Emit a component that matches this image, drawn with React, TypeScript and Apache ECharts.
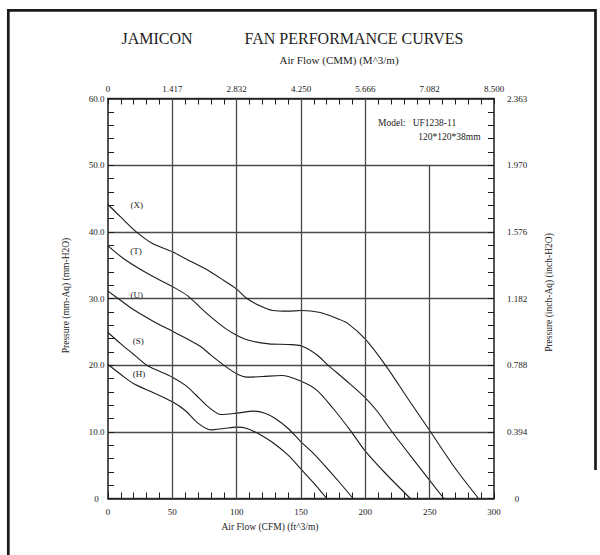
import React, { useEffect, useRef } from 'react';
import * as echarts from 'echarts';

// Axis tick labels
const cfmLabels = ['0', '50', '100', '150', '200', '250', '300'];
const cmmLabels = ['0', '1.417', '2.832', '4.250', '5.666', '7.082', '8.500'];
const mmLabels = ['0', '10.0', '20.0', '30.0', '40.0', '50.0', '60.0'];
const inchLabels = ['0', '0.394', '0.788', '1.182', '1.576', '1.970', '2.363'];

// Curves: [CFM, mm-H2O]
const curveX = [[0, 44.1], [10, 42.2], [22, 40], [35, 38.2], [50, 37.0], [65, 35.5], [77, 34.3], [90, 32.7], [100, 31.4], [108, 30], [118, 28.9], [128, 28.2], [140, 28.1], [150, 28.2], [165, 27.9], [178, 27.0], [186, 26.3], [200, 23.9], [216, 19.9], [233, 15], [250, 10.2], [270, 4.5], [288, 0]];
const curveT = [[0, 37.9], [12, 36], [25, 34.4], [38, 33], [50, 31.8], [62, 30.4], [72, 28.6], [82, 26.9], [92, 25.4], [100, 24.5], [110, 23.7], [125, 23.2], [140, 23.1], [150, 22.9], [162, 21.6], [171, 20], [185, 17.7], [200, 15.1], [210, 12.9], [220, 10.2], [240, 5.2], [261, 0]];
const curveU = [[0, 31.1], [10, 29.7], [20, 28.3], [35, 26.6], [50, 25.1], [62, 23.9], [72, 22.8], [80, 21.5], [90, 20], [100, 18.7], [108, 18.2], [120, 18.3], [135, 18.45], [150, 17.6], [162, 16.3], [175, 13.5], [188, 10.3], [200, 7.1], [215, 3.9], [235, 0]];
const curveS = [[0, 24.9], [10, 23.2], [20, 21.6], [30, 20], [40, 19.1], [50, 18.2], [60, 17], [68, 15.6], [77, 13.9], [88, 12.6], [100, 12.8], [113, 13.1], [122, 12.8], [130, 12], [140, 10.5], [150, 8.5], [160, 6.7], [170, 4.6], [180, 2.4], [190.5, 0]];
const curveH = [[0, 20.1], [10, 18.6], [20, 17.2], [35, 15.9], [50, 14.5], [60, 13.2], [70, 11.3], [80, 10.3], [90, 10.5], [100, 10.7], [108, 10.5], [118, 9.6], [128, 8.4], [140, 6.5], [150, 4.4], [160, 2.3], [170, 0]];

const curves = [curveX, curveT, curveU, curveS, curveH];
const curveNames = ['(X)', '(T)', '(U)', '(S)', '(H)'];
const curveLabelPos = [[22.3, 44.1], [21.8, 37.1], [22.3, 30.5], [23.5, 23.7], [24, 18.7]];

// Vertical grid lines (CFM); the last one stops at 50 mm
const fullGridCfm = [50, 100, 150, 200];
const partialGrid = [250, 0, 50];

const FONT = "'Liberation Serif', 'DejaVu Serif', 'Times New Roman', serif";
const INK = '#1c1c1c';

export default function App() {
  const ref = useRef<HTMLDivElement>(null);
  useEffect(() => {
    if (!ref.current) return;
    const chart = echarts.init(ref.current, null, { renderer: 'svg' });
    const axisLine = { show: true, onZero: false, lineStyle: { color: INK, width: 1.5 } };
    const axisTick = { show: true, inside: true, length: 6, lineStyle: { color: INK, width: 1 } };
    const minorTick = { show: true, splitNumber: 5, length: 6, lineStyle: { color: INK, width: 1 } };
    const lbl = { fontSize: 9, color: '#222', fontFamily: FONT };
    const text = (t: string, x: number, y: number, size: number, align = 'center', rotation = 0) => ({
      type: 'text', x, y, rotation, silent: true,
      style: { text: t, fill: '#222', font: `${size}px ${FONT}`, fontSize: size, fontFamily: FONT, align, textAlign: align, verticalAlign: 'middle', textVerticalAlign: 'middle' },
    });
    const staticGraphic: any[] = [
      { type: 'polyline', silent: true, shape: { points: [[8.3, 560], [8.3, 10.3], [595.5, 10.3], [595.5, 470]] }, style: { stroke: '#1a1a1a', lineWidth: 2.7, fill: null } },
      text('JAMICON', 157, 38, 16),
      text('FAN PERFORMANCE CURVES', 354, 38, 16),
      text('Air Flow (CMM) (M^3/m)', 339, 60, 11),
      text('Air Flow (CFM) (ft^3/m)', 270, 527, 9.5),
      text('Pressure (mm-Aq) (mm-H2O)', 66, 295.5, 9.5, 'center', Math.PI / 2),
      text('Pressure (inch-Aq) (inch-H2O)', 549, 292.5, 9.5, 'center', Math.PI / 2),
      text('Model:', 378, 123.3, 9.5, 'left'),
      text('UF1238-11', 412.7, 123.3, 9.5, 'left'),
      text('120*120*38mm', 418.3, 137.3, 9.5, 'left'),
    ];
    const option: any = {
      animation: false,
      backgroundColor: '#ffffff',
      textStyle: { fontFamily: FONT },
      grid: { left: 108, top: 98.5, width: 386, height: 400 },
      xAxis: [
        {
          type: 'value', position: 'bottom', min: 0, max: 300, interval: 50,
          axisLine, axisTick, minorTick, splitLine: { show: false },
          axisLabel: { ...lbl, margin: 9, formatter: (v: number) => cfmLabels[Math.round(v / 50)] },
        },
        {
          type: 'value', position: 'top', min: 0, max: 300, interval: 50,
          axisLine, axisTick, minorTick, splitLine: { show: false },
          axisLabel: { ...lbl, margin: 5, formatter: (v: number) => cmmLabels[Math.round(v / 50)] },
        },
      ],
      yAxis: [
        {
          type: 'value', position: 'left', min: 0, max: 60, interval: 10,
          axisLine, axisTick, minorTick,
          splitLine: { show: true, lineStyle: { color: '#4a4a4a', width: 1.3 } },
          axisLabel: { ...lbl, margin: 11.5, align: 'center', formatter: (v: number) => mmLabels[Math.round(v / 10)] },
        },
        {
          type: 'value', position: 'right', min: 0, max: 60, interval: 10,
          axisLine, axisTick, minorTick, splitLine: { show: false },
          axisLabel: { ...lbl, margin: 23, align: 'center', formatter: (v: number) => inchLabels[Math.round(v / 10)] },
        },
      ],
      series: curves.map((d, i) => ({
        type: 'line', name: curveNames[i], data: d, xAxisIndex: 0, yAxisIndex: 0,
        symbol: 'none', showSymbol: false, smooth: 0.3,
        lineStyle: { color: INK, width: 1.1 }, silent: true, z: 3,
        ...(i === 0 ? {
          markLine: {
            silent: true, symbol: ['none', 'none'], label: { show: false },
            lineStyle: { type: 'solid', color: '#4a4a4a', width: 1.3 },
            data: [
              ...fullGridCfm.map((x) => ({ xAxis: x })),
              [{ coord: [partialGrid[0], partialGrid[1]] }, { coord: [partialGrid[0], partialGrid[2]] }],
            ],
          },
        } : {}),
      })),
      graphic: staticGraphic,
    };
    chart.setOption(option);
    const labelGraphic = curveLabelPos.map((p, i) => {
      const px = chart.convertToPixel({ xAxisIndex: 0, yAxisIndex: 0 } as any, p) as number[];
      return text(curveNames[i], px[0], px[1], 9);
    });
    chart.setOption({ graphic: [...staticGraphic, ...labelGraphic] });
    return () => chart.dispose();
  }, []);
  return <div ref={ref} style={{ position: 'absolute', left: 0, top: 0, width: 600, height: 555 }} />;
}
